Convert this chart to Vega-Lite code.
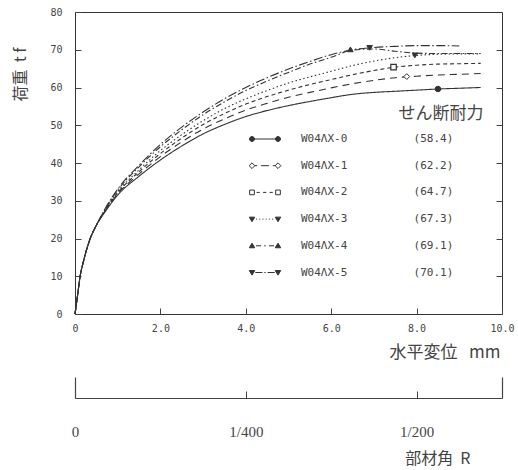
{
  "$schema": "https://vega.github.io/schema/vega-lite/v6.json",
  "width": 427,
  "height": 302,
  "autosize": "none",
  "padding": {"left": 75, "top": 12, "right": 16, "bottom": 156},
  "background": "white",
  "config": {
    "view": {"stroke": "#333", "strokeWidth": 1},
    "axis": {"grid": false, "labelColor": "#444", "tickColor": "#444", "domainColor": "#444", "titleColor": "#444", "titleFontWeight": "normal", "labelFlush": false}
  },
  "datasets": {
    "curves": [
      {"s":"W04ΛX-0","d":0,"p":0},{"s":"W04ΛX-0","d":0.05,"p":4},{"s":"W04ΛX-0","d":0.12,"p":10},{"s":"W04ΛX-0","d":0.2,"p":14},{"s":"W04ΛX-0","d":0.35,"p":19.8},{"s":"W04ΛX-0","d":0.5,"p":23.5},{"s":"W04ΛX-0","d":0.7,"p":27},{"s":"W04ΛX-0","d":1.0,"p":31.5},{"s":"W04ΛX-0","d":1.5,"p":36.5},{"s":"W04ΛX-0","d":2.0,"p":40.8},{"s":"W04ΛX-0","d":2.5,"p":44.5},{"s":"W04ΛX-0","d":3.0,"p":47.7},{"s":"W04ΛX-0","d":3.5,"p":50.2},{"s":"W04ΛX-0","d":4.0,"p":52.3},{"s":"W04ΛX-0","d":4.5,"p":53.9},{"s":"W04ΛX-0","d":5.0,"p":55.2},{"s":"W04ΛX-0","d":5.5,"p":56.3},{"s":"W04ΛX-0","d":6.0,"p":57.3},{"s":"W04ΛX-0","d":6.5,"p":58.2},{"s":"W04ΛX-0","d":7.0,"p":58.7},{"s":"W04ΛX-0","d":7.5,"p":59.0},{"s":"W04ΛX-0","d":8.0,"p":59.3},{"s":"W04ΛX-0","d":8.5,"p":59.6},{"s":"W04ΛX-0","d":9.0,"p":59.8},{"s":"W04ΛX-0","d":9.5,"p":60.0},
      {"s":"W04ΛX-1","d":0,"p":0},{"s":"W04ΛX-1","d":0.05,"p":4},{"s":"W04ΛX-1","d":0.12,"p":10},{"s":"W04ΛX-1","d":0.2,"p":14},{"s":"W04ΛX-1","d":0.35,"p":19.8},{"s":"W04ΛX-1","d":0.5,"p":23.5},{"s":"W04ΛX-1","d":0.7,"p":27.2},{"s":"W04ΛX-1","d":1.0,"p":31.8},{"s":"W04ΛX-1","d":1.5,"p":37.1},{"s":"W04ΛX-1","d":2.0,"p":41.7},{"s":"W04ΛX-1","d":2.5,"p":45.6},{"s":"W04ΛX-1","d":3.0,"p":49.0},{"s":"W04ΛX-1","d":3.5,"p":51.7},{"s":"W04ΛX-1","d":4.0,"p":54.0},{"s":"W04ΛX-1","d":4.5,"p":55.8},{"s":"W04ΛX-1","d":5.0,"p":57.4},{"s":"W04ΛX-1","d":5.5,"p":58.7},{"s":"W04ΛX-1","d":6.0,"p":59.9},{"s":"W04ΛX-1","d":6.5,"p":61.0},{"s":"W04ΛX-1","d":7.0,"p":61.9},{"s":"W04ΛX-1","d":7.5,"p":62.6},{"s":"W04ΛX-1","d":8.0,"p":63.0},{"s":"W04ΛX-1","d":8.5,"p":63.3},{"s":"W04ΛX-1","d":9.0,"p":63.5},{"s":"W04ΛX-1","d":9.5,"p":63.7},
      {"s":"W04ΛX-2","d":0,"p":0},{"s":"W04ΛX-2","d":0.05,"p":4},{"s":"W04ΛX-2","d":0.12,"p":10},{"s":"W04ΛX-2","d":0.2,"p":14},{"s":"W04ΛX-2","d":0.35,"p":19.8},{"s":"W04ΛX-2","d":0.5,"p":23.5},{"s":"W04ΛX-2","d":0.7,"p":27.3},{"s":"W04ΛX-2","d":1.0,"p":32.1},{"s":"W04ΛX-2","d":1.5,"p":37.7},{"s":"W04ΛX-2","d":2.0,"p":42.5},{"s":"W04ΛX-2","d":2.5,"p":46.6},{"s":"W04ΛX-2","d":3.0,"p":50.2},{"s":"W04ΛX-2","d":3.5,"p":53.1},{"s":"W04ΛX-2","d":4.0,"p":55.6},{"s":"W04ΛX-2","d":4.5,"p":57.6},{"s":"W04ΛX-2","d":5.0,"p":59.3},{"s":"W04ΛX-2","d":5.5,"p":60.8},{"s":"W04ΛX-2","d":6.0,"p":62.1},{"s":"W04ΛX-2","d":6.5,"p":63.4},{"s":"W04ΛX-2","d":7.0,"p":64.5},{"s":"W04ΛX-2","d":7.5,"p":65.4},{"s":"W04ΛX-2","d":8.0,"p":65.9},{"s":"W04ΛX-2","d":8.5,"p":66.2},{"s":"W04ΛX-2","d":9.0,"p":66.3},{"s":"W04ΛX-2","d":9.5,"p":66.4},
      {"s":"W04ΛX-3","d":0,"p":0},{"s":"W04ΛX-3","d":0.05,"p":4},{"s":"W04ΛX-3","d":0.12,"p":10},{"s":"W04ΛX-3","d":0.2,"p":14},{"s":"W04ΛX-3","d":0.35,"p":19.8},{"s":"W04ΛX-3","d":0.5,"p":23.5},{"s":"W04ΛX-3","d":0.7,"p":27.5},{"s":"W04ΛX-3","d":1.0,"p":32.4},{"s":"W04ΛX-3","d":1.5,"p":38.2},{"s":"W04ΛX-3","d":2.0,"p":43.3},{"s":"W04ΛX-3","d":2.5,"p":47.5},{"s":"W04ΛX-3","d":3.0,"p":51.2},{"s":"W04ΛX-3","d":3.5,"p":54.4},{"s":"W04ΛX-3","d":4.0,"p":57.0},{"s":"W04ΛX-3","d":4.5,"p":59.2},{"s":"W04ΛX-3","d":5.0,"p":61.2},{"s":"W04ΛX-3","d":5.5,"p":62.8},{"s":"W04ΛX-3","d":6.0,"p":64.3},{"s":"W04ΛX-3","d":6.5,"p":65.8},{"s":"W04ΛX-3","d":7.0,"p":67.0},{"s":"W04ΛX-3","d":7.5,"p":67.9},{"s":"W04ΛX-3","d":8.0,"p":68.5},{"s":"W04ΛX-3","d":8.5,"p":68.8},{"s":"W04ΛX-3","d":9.0,"p":68.9},{"s":"W04ΛX-3","d":9.5,"p":68.9},
      {"s":"W04ΛX-4","d":0,"p":0},{"s":"W04ΛX-4","d":0.05,"p":4},{"s":"W04ΛX-4","d":0.12,"p":10},{"s":"W04ΛX-4","d":0.2,"p":14},{"s":"W04ΛX-4","d":0.35,"p":19.8},{"s":"W04ΛX-4","d":0.5,"p":23.5},{"s":"W04ΛX-4","d":0.7,"p":27.7},{"s":"W04ΛX-4","d":1.0,"p":32.8},{"s":"W04ΛX-4","d":1.5,"p":39.0},{"s":"W04ΛX-4","d":2.0,"p":44.3},{"s":"W04ΛX-4","d":2.5,"p":48.8},{"s":"W04ΛX-4","d":3.0,"p":52.8},{"s":"W04ΛX-4","d":3.5,"p":56.2},{"s":"W04ΛX-4","d":4.0,"p":59.2},{"s":"W04ΛX-4","d":4.5,"p":61.7},{"s":"W04ΛX-4","d":5.0,"p":64.0},{"s":"W04ΛX-4","d":5.5,"p":66.2},{"s":"W04ΛX-4","d":6.0,"p":68.0},{"s":"W04ΛX-4","d":6.5,"p":69.9},{"s":"W04ΛX-4","d":7.0,"p":70.2},{"s":"W04ΛX-4","d":7.5,"p":69.6},{"s":"W04ΛX-4","d":8.0,"p":69.1},{"s":"W04ΛX-4","d":8.5,"p":69.0},{"s":"W04ΛX-4","d":9.0,"p":69.0},{"s":"W04ΛX-4","d":9.5,"p":69.0},
      {"s":"W04ΛX-5","d":0,"p":0},{"s":"W04ΛX-5","d":0.05,"p":4},{"s":"W04ΛX-5","d":0.12,"p":10},{"s":"W04ΛX-5","d":0.2,"p":14},{"s":"W04ΛX-5","d":0.35,"p":19.8},{"s":"W04ΛX-5","d":0.5,"p":23.5},{"s":"W04ΛX-5","d":0.7,"p":27.8},{"s":"W04ΛX-5","d":1.0,"p":33.1},{"s":"W04ΛX-5","d":1.5,"p":39.4},{"s":"W04ΛX-5","d":2.0,"p":44.9},{"s":"W04ΛX-5","d":2.5,"p":49.5},{"s":"W04ΛX-5","d":3.0,"p":53.5},{"s":"W04ΛX-5","d":3.5,"p":57.0},{"s":"W04ΛX-5","d":4.0,"p":60.0},{"s":"W04ΛX-5","d":4.5,"p":62.6},{"s":"W04ΛX-5","d":5.0,"p":64.9},{"s":"W04ΛX-5","d":5.5,"p":66.9},{"s":"W04ΛX-5","d":6.0,"p":68.7},{"s":"W04ΛX-5","d":6.5,"p":70.0},{"s":"W04ΛX-5","d":7.0,"p":70.6},{"s":"W04ΛX-5","d":7.5,"p":70.9},{"s":"W04ΛX-5","d":8.0,"p":71.1},{"s":"W04ΛX-5","d":8.5,"p":71.1},{"s":"W04ΛX-5","d":9.0,"p":71.0}
    ],
    "marks": [
      {"s":"W04ΛX-0","d":8.5,"p":59.6},
      {"s":"W04ΛX-1","d":7.77,"p":62.9},
      {"s":"W04ΛX-2","d":7.46,"p":65.4},
      {"s":"W04ΛX-3","d":7.96,"p":68.5},
      {"s":"W04ΛX-4","d":6.45,"p":70.1},
      {"s":"W04ΛX-5","d":6.9,"p":70.5}
    ],
    "angle": [{"r": 0}, {"r": 0.00625}]
  },
  "layer": [
    {
      "data": {"name": "curves"},
      "mark": {"type": "line", "stroke": "#333", "strokeWidth": 1.1, "interpolate": "monotone"},
      "encoding": {
        "x": {"field": "d", "type": "quantitative", "scale": {"domain": [0, 10], "nice": false},
          "axis": {"values": [0, 2, 4, 6, 8, 10], "labelExpr": "datum.value == 0 ? '0' : format(datum.value, '.1f')", "domain": false, "tickSize": -6, "labelFont": "DejaVu Sans Mono", "labelFontSize": 10, "labelPadding": 15,
            "title": "水平変位\u00a0\u00a0\u00a0mm", "titleFont": "Noto Sans CJK JP", "titleFontSize": 17, "titleX": 425, "titleY": 38, "titleAlign": "right", "titleBaseline": "middle", "titleAngle": 0}},
        "y": {"field": "p", "type": "quantitative", "scale": {"domain": [0, 80], "nice": false},
          "axis": {"values": [0, 10, 20, 30, 40, 50, 60, 70, 80], "domain": false, "tickSize": -6, "labelFont": "DejaVu Sans Mono", "labelFontSize": 10, "labelPadding": 19,
            "title": "荷重\u00a0\u00a0t\u00a0f", "titleFont": "Noto Sans CJK JP", "titleFontSize": 16, "titleX": -55, "titleY": 62, "titleAlign": "center", "titleBaseline": "middle", "titleAngle": 270}},
        "strokeDash": {"field": "s", "type": "nominal",
          "scale": {"domain": ["W04ΛX-0","W04ΛX-1","W04ΛX-2","W04ΛX-3","W04ΛX-4","W04ΛX-5"], "range": [[1,0],[7,5],[4,3],[1.5,2.5],[6,2.5,1.5,2.5],[9,2.5,1.5,2.5]]},
          "legend": null}
      }
    },
    {
      "data": {"name": "marks"},
      "mark": {"type": "point", "filled": true, "opacity": 0, "strokeWidth": 1},
      "encoding": {
        "shape": {"field": "s", "type": "nominal",
          "scale": {"range": [
            "M-1,0H1M-1.19,0A0.19,0.19,0,1,0,-0.81,0A0.19,0.19,0,1,0,-1.19,0ZM0.81,0A0.19,0.19,0,1,0,1.19,0A0.19,0.19,0,1,0,0.81,0Z",
            "M-0.8,0H-0.6M-0.3,0H0.3M0.6,0H0.8M-1.22,0L-1,-0.22L-0.78,0L-1,0.22ZM0.78,0L1,-0.22L1.22,0L1,0.22Z",
            "M-0.65,0H-0.4M-0.15,0H0.1M0.35,0H0.6M-1.18,-0.18H-0.82V0.18H-1.18ZM0.82,-0.18H1.18V0.18H0.82Z",
            "M-0.7,0H-0.62M-0.45,0H-0.37M-0.2,0H-0.12M0.05,0H0.13M0.3,0H0.38M0.55,0H0.63M-1.21,-0.15H-0.79L-1,0.2ZM0.79,-0.15H1.21L1,0.2Z",
            "M-0.7,0H-0.3M-0.06,0H0.06M0.3,0H0.7M-1.21,0.15H-0.79L-1,-0.2ZM0.79,0.15H1.21L1,-0.2Z",
            "M-0.75,0H-0.2M-0.05,0H0.05M0.2,0H0.75M-1.21,-0.15H-0.79L-1,0.2ZM0.79,-0.15H1.21L1,0.2Z"]},
          "legend": {
            "orient": "none", "legendX": 176.5, "legendY": 113.5,
            "title": null,
            "symbolSize": 676, "symbolOpacity": 1, "symbolStrokeColor": "#333", "symbolStrokeWidth": 1,
            "labelOffset": 22.5, "rowPadding": 7.7, "labelLimit": 400,
            "labelFont": "DejaVu Sans Mono", "labelFontSize": 11, "labelColor": "#444",
            "labelExpr": "datum.label + '\u00a0\u00a0\u00a0\u00a0\u00a0\u00a0\u00a0\u00a0\u00a0\u00a0' + ['(58.4)','(62.2)','(64.7)','(67.3)','(69.1)','(70.1)'][indexof(['W04ΛX-0','W04ΛX-1','W04ΛX-2','W04ΛX-3','W04ΛX-4','W04ΛX-5'], datum.label)]"
          }},
        "fill": {"field": "s", "type": "nominal", "scale": {"range": ["#333", "white", "white", "#333", "#333", "#333"]}},
        "stroke": {"field": "s", "type": "nominal", "scale": {"range": ["#333", "#333", "#333", "#333", "#333", "#333"]}}
      }
    },
    {
      "data": {"name": "marks"},
      "transform": [{"filter": "datum.s == 'W04ΛX-0'"}],
      "mark": {"type": "point", "shape": "circle", "filled": true, "fill": "#333", "stroke": "#333", "strokeWidth": 1, "opacity": 1, "size": 30},
      "encoding": {
        "x": {"field": "d", "type": "quantitative", "scale": {"domain": [0, 10], "nice": false}, "axis": null},
        "y": {"field": "p", "type": "quantitative", "scale": {"domain": [0, 80], "nice": false},
          "axis": {"orient": "right", "values": [10, 20, 30, 40, 50, 60, 70], "labels": false, "domain": false, "tickSize": -6,
            "title": "せん断耐力", "titleFont": "Noto Sans CJK JP", "titleFontSize": 17, "titleColor": "#444", "titleAngle": 0, "titleX": -19, "titleY": 101, "titleAlign": "right", "titleBaseline": "middle"}}
      }
    },
    {
      "data": {"name": "marks"},
      "transform": [{"filter": "datum.s == 'W04ΛX-1'"}],
      "mark": {"type": "point", "shape": "diamond", "filled": true, "fill": "white", "stroke": "#333", "strokeWidth": 1, "opacity": 1, "size": 34},
      "encoding": {
        "x": {"field": "d", "type": "quantitative", "scale": {"domain": [0, 10], "nice": false}, "axis": null},
        "y": {"field": "p", "type": "quantitative", "scale": {"domain": [0, 80], "nice": false}, "axis": null}
      }
    },
    {
      "data": {"name": "marks"},
      "transform": [{"filter": "datum.s == 'W04ΛX-2'"}],
      "mark": {"type": "point", "shape": "square", "filled": true, "fill": "white", "stroke": "#333", "strokeWidth": 1.2, "opacity": 1, "size": 30},
      "encoding": {
        "x": {"field": "d", "type": "quantitative", "scale": {"domain": [0, 10], "nice": false}, "axis": null},
        "y": {"field": "p", "type": "quantitative", "scale": {"domain": [0, 80], "nice": false}, "axis": null}
      }
    },
    {
      "data": {"name": "marks"},
      "transform": [{"filter": "datum.s == 'W04ΛX-3' || datum.s == 'W04ΛX-5'"}],
      "mark": {"type": "point", "shape": "triangle-down", "filled": true, "fill": "#333", "stroke": "#333", "strokeWidth": 1, "opacity": 1, "size": 30},
      "encoding": {
        "x": {"field": "d", "type": "quantitative", "scale": {"domain": [0, 10], "nice": false}, "axis": null},
        "y": {"field": "p", "type": "quantitative", "scale": {"domain": [0, 80], "nice": false}, "axis": null}
      }
    },
    {
      "data": {"name": "marks"},
      "transform": [{"filter": "datum.s == 'W04ΛX-4'"}],
      "mark": {"type": "point", "shape": "triangle-up", "filled": true, "fill": "#333", "stroke": "#333", "strokeWidth": 1, "opacity": 1, "size": 30},
      "encoding": {
        "x": {"field": "d", "type": "quantitative", "scale": {"domain": [0, 10], "nice": false}, "axis": null},
        "y": {"field": "p", "type": "quantitative", "scale": {"domain": [0, 80], "nice": false}, "axis": null}
      }
    },
    {
      "data": {"name": "angle"},
      "mark": {"type": "point", "opacity": 0},
      "encoding": {
        "x": {"field": "r", "type": "quantitative", "scale": {"domain": [0, 0.00625], "nice": false, "zero": false},
          "axis": {"orient": "bottom", "offset": 84, "values": [0, 0.0025, 0.005], "tickSize": -7, "domain": true, "domainWidth": 1.2,
            "labelExpr": "datum.value == 0 ? '0' : (abs(datum.value - 0.0025) < 0.000001 ? '1/400' : '1/200')",
            "labelFont": "Liberation Serif", "labelFontSize": 15, "labelPadding": 33,
            "title": "部材角\u00a0\u00a0R", "titleFont": "Noto Sans CJK JP", "titleFontSize": 16, "titleX": 395, "titleY": 60, "titleAlign": "right", "titleBaseline": "middle"}}
      }
    },
    {
      "data": {"name": "angle"},
      "mark": {"type": "point", "opacity": 0},
      "encoding": {
        "x": {"field": "r", "type": "quantitative", "scale": {"domain": [0, 0.00625], "nice": false, "zero": false},
          "axis": {"orient": "bottom", "offset": 84, "values": [0, 0.00625], "tickSize": -21, "tickWidth": 1.2, "domain": false, "labels": false, "title": null}}
      }
    }
  ],
  "resolve": {"scale": {"x": "independent", "y": "independent"}}
}
